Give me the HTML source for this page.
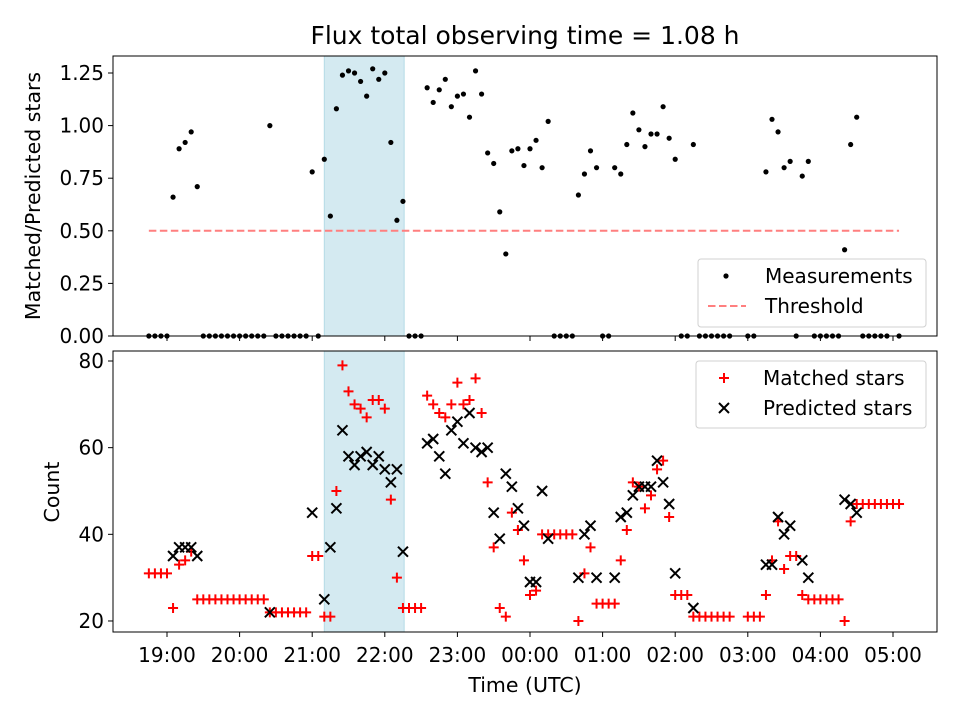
<!DOCTYPE html>
<html><head><meta charset="utf-8"><style>
html,body{margin:0;padding:0;background:#fff;}
svg{display:block;font-family:"DejaVu Sans","Liberation Sans",sans-serif;}
</style></head><body>
<svg id="chart" width="960" height="720" viewBox="0 0 960 720" xmlns="http://www.w3.org/2000/svg">
<rect x="0" y="0" width="960" height="720" fill="#fff"/>
<text x="525" y="44" font-size="25" text-anchor="middle">Flux total observing time = 1.08 h</text>
<g id="topPanel"></g>
<g id="botPanel"></g>
<text x="525" y="692" font-size="20.5" text-anchor="middle">Time (UTC)</text>
<text transform="translate(40,196) rotate(-90)" font-size="20.5" text-anchor="middle">Matched/Predicted stars</text>
<text transform="translate(59,492) rotate(-90)" font-size="20.5" text-anchor="middle">Count</text>
</svg>
<script>
// sample index: 5-minute steps starting at 18:45 UTC
const ratioIdx = [0,1,2,3,4,5,6,7,8,9,10,11,12,13,14,15,16,17,18,19,20,21,22,23,24,25,26,27,28,29,30,31,32,33,34,35,36,37,38,39,40,41,42,43,44,45,46,47,48,49,50,51,52,53,54,55,56,57,58,59,60,61,62,63,64,65,66,67,68,69,70,71,72,73,74,75,76,77,78,79,80,81,82,83,84,85,86,87,88,89,90,91,92,93,94,95,96,99,100,102,103,104,105,106,107,108,109,110,111,112,113,114,115,116,117,118,119,120,121,122,124];
const ratioVal = [0,0,0,0,0.66,0.89,0.92,0.97,0.71,0,0,0,0,0,0,0,0,0,0,0,1.00,0,0,0,0,0,0,0.78,0,0.84,0.57,1.08,1.24,1.26,1.25,1.21,1.14,1.27,1.22,1.25,0.92,0.55,0.64,0,0,0,1.18,1.11,1.17,1.22,1.09,1.14,1.15,1.04,1.26,1.15,0.87,0.82,0.59,0.39,0.88,0.89,0.81,0.89,0.93,0.80,1.02,0,0,0,0,0.67,0.77,0.88,0.80,0,0,0.80,0.77,0.91,1.06,0.98,0.90,0.96,0.96,1.09,0.94,0.84,0,0,0.91,0,0,0,0,0,0,0,0,0.78,1.03,0.97,0.80,0.83,0,0.76,0.83,0,0,0,0,0,0.41,0.91,1.04,0,0,0,0,0,0];
const threshold = 0.5;
const shadeStartIdx = 29.0, shadeEndIdx = 42.2;
const matchedIdx = [0,1,2,3,4,5,6,7,8,9,10,11,12,13,14,15,16,17,18,19,20,21,22,23,24,25,26,27,28,29,30,31,32,33,34,35,36,37,38,39,40,41,42,43,44,45,46,47,48,49,50,51,52,53,54,55,56,57,58,59,60,61,62,63,64,65,66,67,68,69,70,71,72,73,74,75,76,77,78,79,80,81,82,83,84,85,86,87,88,89,90,91,92,93,94,95,96,99,100,101,102,103,104,105,106,107,108,109,110,111,112,113,114,115,116,117,118,119,120,121,122,123,124];
const matchedVal = [31,31,31,31,23,33,34,36,25,25,25,25,25,25,25,25,25,25,25,25,22,22,22,22,22,22,22,35,35,21,21,50,79,73,70,69,67,71,71,69,48,30,23,23,23,23,72,70,68,67,70,75,70,71,76,68,52,37,23,21,45,41,34,26,27,40,40,40,40,40,40,20,31,37,24,24,24,24,34,41,52,51,46,49,55,57,44,26,26,26,21,21,21,21,21,21,21,21,21,21,26,34,43,32,35,35,26,25,25,25,25,25,25,20,43,47,47,47,47,47,47,47,47];
const predictedIdx = [4,5,6,7,8,20,27,29,30,31,32,33,34,35,36,37,38,39,40,41,42,46,47,48,49,50,51,52,53,54,55,56,57,58,59,60,61,62,63,64,65,66,71,72,73,74,77,78,79,80,81,82,83,84,85,86,87,90,102,103,104,105,106,108,109,115,116,117];
const predictedVal = [35,37,37,37,35,22,45,25,37,46,64,58,56,58,59,56,58,55,52,55,36,61,62,58,54,64,66,61,68,60,59,60,45,39,54,51,46,42,29,29,50,39,30,40,42,30,30,44,45,49,51,51,51,57,52,47,31,23,33,33,44,40,42,34,30,48,47,45];
const timeTicks = ["19:00","20:00","21:00","22:00","23:00","00:00","01:00","02:00","03:00","04:00","05:00"];
const ratioTicks = [0,0.25,0.5,0.75,1.0,1.25];
const countTicks = [20,40,60,80];

const NS="http://www.w3.org/2000/svg";
const L=113,R=937;
const T1=56,B1=336,T2=351,B2=632;
const TICKFS=20;
function xIdx(i){return 167+(i-3)*72.6/12;}
function xHour(k){return 167+k*72.6;}
function yR(v){return 336-v*210.4;}
function yC(v){return 361+(80-v)*4.333;}
function mk(tag,attrs,parent){const e=document.createElementNS(NS,tag);for(const k in attrs)e.setAttribute(k,attrs[k]);parent.appendChild(e);return e;}
const topG=document.getElementById('topPanel'),botG=document.getElementById('botPanel');

function panel(g,T,B,name){
  let s=mk('rect',{x:xIdx(shadeStartIdx),y:T,width:xIdx(shadeEndIdx)-xIdx(shadeStartIdx),height:B-T,fill:'#d4eaf1',stroke:'#b5dbe6','stroke-width':1},g);
  
  
  timeTicks.forEach((t,k)=>{
    const tk=mk('line',{x1:xHour(k),x2:xHour(k),y1:B,y2:B+5,stroke:'#000','stroke-width':1},g);
    
    
  });
}
panel(topG,T1,B1,'top');
panel(botG,T2,B2,'bottom');

let th=mk('line',{x1:xIdx(0),x2:xIdx(124),y1:yR(threshold),y2:yR(threshold),stroke:'#ff7f7f','stroke-width':2,'stroke-dasharray':'7.5,3.5'},topG);


ratioIdx.forEach((ix,j)=>{
  const c=mk('circle',{cx:xIdx(ix),cy:yR(ratioVal[j]),r:2.6,fill:'#000'},topG);
  
  
});
ratioTicks.forEach(v=>{
  const y=yR(v);
  const tl=mk('line',{x1:L-5,x2:L,y1:y,y2:y,stroke:'#000'},topG);
  
  
  const tx=mk('text',{x:L-9,y:y+7,'font-size':TICKFS,'text-anchor':'end'},topG);
  tx.textContent=v.toFixed(2);
  
  
});
matchedIdx.forEach((ix,j)=>{
  const x=xIdx(ix),y=yC(matchedVal[j]);
  const p=mk('path',{d:`M${x-5},${y}H${x+5}M${x},${y-5}V${y+5}`,stroke:'#f00','stroke-width':2,fill:'none'},botG);
  
  
});
predictedIdx.forEach((ix,j)=>{
  const x=xIdx(ix),y=yC(predictedVal[j]);
  const p=mk('path',{d:`M${x-5},${y-5}L${x+5},${y+5}M${x-5},${y+5}L${x+5},${y-5}`,stroke:'#000','stroke-width':2,fill:'none'},botG);
  
  
});
countTicks.forEach(v=>{
  const y=yC(v);
  const tl=mk('line',{x1:L-5,x2:L,y1:y,y2:y,stroke:'#000'},botG);
  
  
  const tx=mk('text',{x:L-9,y:y+7,'font-size':TICKFS,'text-anchor':'end'},botG);
  tx.textContent=v;
  
  
});
timeTicks.forEach((t,k)=>{
  const tx=mk('text',{x:xHour(k),y:B2+30,'font-size':TICKFS,'text-anchor':'middle'},botG);
  tx.textContent=t;
  
  
});
let f1=mk('rect',{x:L,y:T1,width:R-L,height:B1-T1,fill:'none',stroke:'#000','stroke-width':1},topG);


let f2=mk('rect',{x:L,y:T2,width:R-L,height:B2-T2,fill:'none',stroke:'#000','stroke-width':1},botG);



function legend(g,x,y,w,h,items,name){
  const lg=mk('g',{},g);
  
  
  mk('rect',{x:x,y:y,width:w,height:h,rx:3,fill:'#fff','fill-opacity':0.8,stroke:'#d0d0d0'},lg);
  items.forEach((it,k)=>{
    const cy=y+17+k*30, cx=x+28;
    if(it.kind==='dot')mk('circle',{cx:cx,cy:cy,r:2.6,fill:'#000'},lg);
    if(it.kind==='dash')mk('line',{x1:x+10,x2:x+48,y1:cy,y2:cy,stroke:'#ff7f7f','stroke-width':2,'stroke-dasharray':'7.5,3.5'},lg);
    if(it.kind==='plus')mk('path',{d:`M${cx-5},${cy}H${cx+5}M${cx},${cy-5}V${cy+5}`,stroke:'#f00','stroke-width':2},lg);
    if(it.kind==='x')mk('path',{d:`M${cx-5},${cy-5}L${cx+5},${cy+5}M${cx-5},${cy+5}L${cx+5},${cy-5}`,stroke:'#000','stroke-width':2},lg);
    const t=mk('text',{x:x+67,y:cy+7,'font-size':20},lg);
    t.textContent=it.label;
    
    
  });
}
legend(topG,698,259,228,68,[{kind:'dot',label:'Measurements'},{kind:'dash',label:'Threshold'}],'top-legend');
legend(botG,696,361,230,67,[{kind:'plus',label:'Matched stars'},{kind:'x',label:'Predicted stars'}],'bottom-legend');
</script>
</body></html>
